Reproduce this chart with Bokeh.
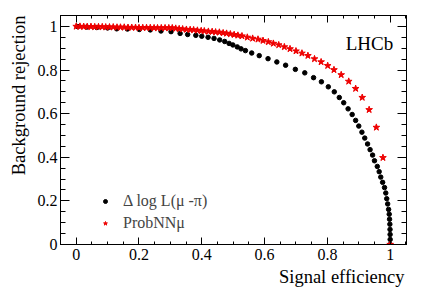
from bokeh.plotting import figure
from bokeh.models import (Range1d, LinearAxis, FixedTicker, Label, Legend, LegendItem, Title)
from bokeh.embed import file_html
from bokeh.resources import INLINE

# Delta log L(mu - pi) ROC points
dll_eff = [0.005, 0.034, 0.066, 0.100, 0.129, 0.163, 0.201, 0.236, 0.270, 0.302,
           0.331, 0.355, 0.381, 0.400, 0.420, 0.439, 0.457, 0.473, 0.487, 0.499,
           0.513, 0.525, 0.539, 0.559, 0.583, 0.611, 0.639, 0.667, 0.698, 0.728,
           0.756, 0.781, 0.803, 0.822, 0.838, 0.852, 0.866, 0.879, 0.890, 0.900,
           0.910, 0.919, 0.928, 0.936, 0.944, 0.950, 0.959, 0.965, 0.970, 0.976,
           0.982, 0.986, 0.989, 0.992, 0.995, 0.997, 0.998, 0.999, 0.9995, 0.9998,
           1.000, 1.000]
dll_rej = [0.999, 0.997, 0.995, 0.993, 0.989, 0.988, 0.986, 0.984, 0.979, 0.976,
           0.968, 0.963, 0.959, 0.955, 0.950, 0.945, 0.938, 0.931, 0.922, 0.915,
           0.906, 0.897, 0.889, 0.878, 0.866, 0.852, 0.837, 0.822, 0.803, 0.787,
           0.765, 0.746, 0.723, 0.700, 0.674, 0.650, 0.622, 0.596, 0.569, 0.543,
           0.515, 0.488, 0.461, 0.435, 0.410, 0.384, 0.358, 0.334, 0.309, 0.285,
           0.261, 0.236, 0.210, 0.186, 0.161, 0.139, 0.116, 0.093, 0.069, 0.046,
           0.023, 0.000]

# ProbNNmu ROC points
nn_eff = [0.000, 0.012, 0.024, 0.035, 0.047, 0.059, 0.071, 0.083, 0.094, 0.106,
          0.118, 0.130, 0.141, 0.153, 0.165, 0.177, 0.189, 0.200, 0.212, 0.224,
          0.236, 0.248, 0.259, 0.271, 0.283, 0.295, 0.306, 0.317, 0.328, 0.339,
          0.351, 0.363, 0.374, 0.386, 0.398, 0.408, 0.421, 0.433, 0.444, 0.456,
          0.468, 0.479, 0.491, 0.503, 0.515, 0.528, 0.545, 0.562, 0.579, 0.595,
          0.612, 0.628, 0.645, 0.663, 0.681, 0.700, 0.719, 0.738, 0.759, 0.780,
          0.801, 0.821, 0.844, 0.868, 0.890, 0.911, 0.933, 0.956, 0.977, 1.000]
nn_rej = [1.000, 1.000, 0.999, 0.999, 0.999, 0.998, 0.998, 0.998, 0.997, 0.997,
          0.997, 0.996, 0.996, 0.996, 0.995, 0.995, 0.995, 0.994, 0.994, 0.994,
          0.994, 0.993, 0.993, 0.993, 0.993, 0.993, 0.993, 0.991, 0.989, 0.988,
          0.986, 0.985, 0.984, 0.982, 0.980, 0.979, 0.977, 0.976, 0.974, 0.973,
          0.970, 0.968, 0.965, 0.962, 0.959, 0.956, 0.950, 0.945, 0.941, 0.935,
          0.929, 0.922, 0.915, 0.906, 0.897, 0.887, 0.877, 0.866, 0.851, 0.837,
          0.820, 0.801, 0.778, 0.748, 0.715, 0.674, 0.618, 0.537, 0.398, 0.000]

major_ticks = [0, 0.2, 0.4, 0.6, 0.8, 1.0]
minor_ticks = [i * 0.05 for i in range(-1, 22)]
tick_labels = {0: "0", 1: "1"}
blank_labels = {t: "" for t in major_ticks}

x_title = "Signal efficiency"
y_title = "Background rejection"
series_names = ["\u0394 log L(\u03bc -\u03c0)", "ProbNN\u03bc"]

FONT = "Liberation Serif"

p = figure(width=427, height=291, output_backend="svg", toolbar_location=None,
           x_range=Range1d(-0.05, 1.052), y_range=Range1d(0, 1.05),
           min_border_left=60, min_border_right=21, min_border_top=15,
           min_border_bottom=47, x_axis_location=None, y_axis_location=None)
p.grid.visible = False
p.outline_line_color = "black"
p.outline_line_width = 1
p.background_fill_color = "white"
p.border_fill_color = "white"


def make_axis(kind, side, show_labels):
    ax = LinearAxis(ticker=FixedTicker(ticks=major_ticks, minor_ticks=minor_ticks))
    ax.major_tick_out = 0
    ax.minor_tick_out = 0
    if kind == "x":
        ax.major_tick_in = 7
        ax.minor_tick_in = 3
    else:
        ax.major_tick_in = 9
        ax.minor_tick_in = 5
    ax.axis_line_color = "black"
    ax.major_tick_line_color = "black"
    ax.minor_tick_line_color = "black"
    if show_labels:
        ax.major_label_text_font = FONT
        ax.major_label_text_font_size = "16px"
        ax.major_label_text_color = "black"
        ax.major_label_overrides = tick_labels
        ax.major_label_standoff = 3 if kind == "y" else 4
    else:
        ax.major_label_overrides = blank_labels
        ax.major_label_standoff = 0
    p.add_layout(ax, side)


make_axis("x", "below", True)
make_axis("y", "left", True)
make_axis("x", "above", False)
make_axis("y", "right", False)

p.add_layout(Title(text=x_title, align="right", offset=2, standoff=4,
                   text_font=FONT, text_font_size="18.5px",
                   text_font_style="normal", text_color="black"), "below")
p.add_layout(Title(text=y_title, align="right", offset=0, standoff=11,
                   vertical_align="bottom",
                   text_font=FONT, text_font_size="18.5px",
                   text_font_style="normal", text_color="black"), "left")

r_dll = p.scatter(dll_eff, dll_rej, marker="circle", size=4.5, color="black")
r_nn = p.scatter(nn_eff, nn_rej, marker="star", size=7, color="#ee0000")

legend = Legend(items=[LegendItem(label=series_names[0], renderers=[r_dll]),
                       LegendItem(label=series_names[1], renderers=[r_nn])],
                location=(40, 10), padding=0, margin=0, spacing=0,
                glyph_width=10, glyph_height=22, label_height=22,
                label_standoff=13, border_line_color=None,
                background_fill_alpha=0,
                label_text_font=FONT, label_text_font_size="16px")
p.add_layout(legend, "center")

p.add_layout(Label(x=1.0095, y=0.9195, text="LHCb", text_align="right",
                   text_baseline="alphabetic", text_font=FONT,
                   text_font_size="19px", text_color="black"))

open("out.html", "w").write(file_html(p, INLINE))
